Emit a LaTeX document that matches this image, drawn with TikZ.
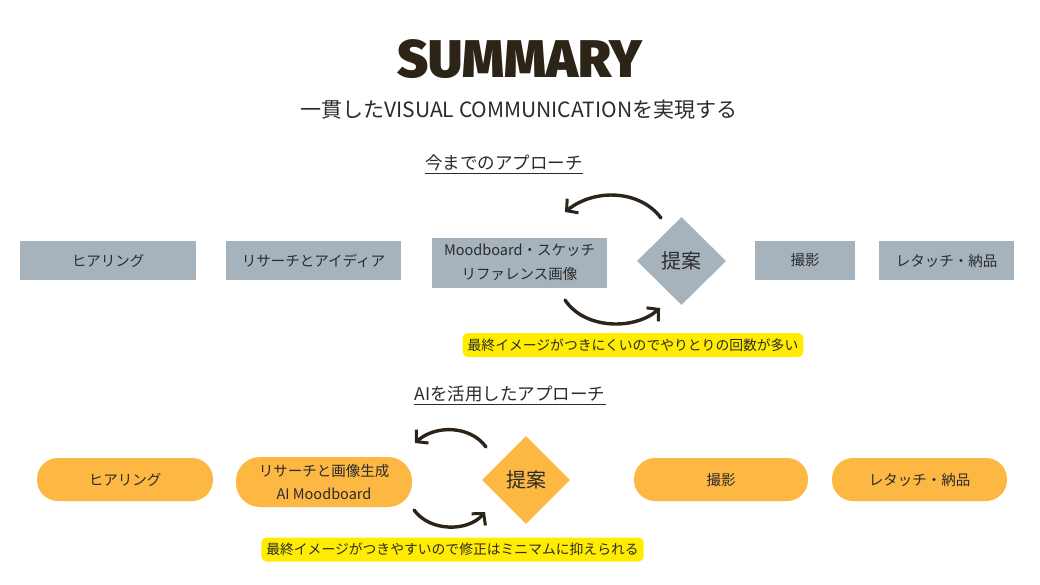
\documentclass[tikz,border=0pt]{standalone}
\usepackage{fontspec}
\setmainfont{Noto Sans CJK JP}
\newfontfamily\titlefont{Fira Sans Black}
\usetikzlibrary{shapes.geometric,arrows.meta}
\definecolor{grayfill}{HTML}{A7B3BC}
\definecolor{orangefill}{HTML}{FDB843}
\definecolor{noteyellow}{HTML}{FFEC00}
\definecolor{ink}{HTML}{2B2B2B}
\definecolor{arrowink}{HTML}{2C241B}
\definecolor{titleink}{HTML}{2D2418}
\tikzset{
  graybox/.style={fill=grayfill, draw=none, inner sep=0pt, text=ink, align=center,
    font=\fontsize{14.5}{24}\selectfont},
  pill/.style={fill=orangefill, draw=none, inner sep=0pt, text=ink, align=center,
    rounded corners=21pt, font=\fontsize{14.5}{23}\selectfont},
  graydia/.style={diamond, fill=grayfill, inner sep=0pt, minimum width=89pt, minimum height=88pt,
    text=ink, font=\fontsize{20}{24}\selectfont},
  oradia/.style={diamond, fill=orangefill, inner sep=0pt, minimum width=88pt, minimum height=88pt,
    text=ink, font=\fontsize{20}{24}\selectfont},
  note/.style={fill=noteyellow, rounded corners=5pt, inner xsep=5pt, inner ysep=0pt,
    minimum height=24pt, text=ink, font=\fontsize{13.8}{16}\selectfont},
  heading/.style={inner sep=0pt, text=ink, font=\fontsize{17.5}{20}\selectfont},
  loop/.style={draw=arrowink, line width=3.4pt, line cap=round,
    -{Straight Barb[length=8pt,width=18pt,line width=3pt]}},
  uline/.style={draw=ink, line width=1.2pt}
}
\begin{document}
\begin{tikzpicture}[x=1pt,y=-1pt]
\useasboundingbox[fill=white] (0,0) rectangle (1040,585);

% title
\node[text=titleink, font=\titlefont\fontsize{53}{56}\selectfont, inner sep=0pt, anchor=base] (title) at (520,78) {SUMMARY};
\node[text=ink, font=\fontsize{21}{24}\selectfont, inner sep=0pt] (sub) at (519,110) {一貫したVISUAL COMMUNICATIONを実現する};

% heading 1
\node[heading] (h1) at (504,163) {今までのアプローチ};
\draw[uline] ([yshift=-4pt]h1.base west) -- ([yshift=-4pt]h1.base east);

% row 1
\node[graybox, minimum width=176pt, minimum height=39pt] (g1) at (108,260.5) {ヒアリング};
\node[graybox, minimum width=175pt, minimum height=39pt] (g2) at (313.5,260.5) {リサーチとアイディア};
\node[graybox, minimum width=175pt, minimum height=50pt] (g3) at (519.5,262.5) {Moodboard・スケッチ\\リファレンス画像};
\node[graydia] (gd) at (681.5,261) {提案};
\node[graybox, minimum width=100pt, minimum height=39pt] (g4) at (805,260.5) {撮影};
\node[graybox, minimum width=135pt, minimum height=39pt] (g5) at (946.5,260.5) {レタッチ・納品};

\coordinate (a1s) at (661,218);
\coordinate (a1e) at (565,212);
\coordinate (a2s) at (565,300);
\coordinate (a2e) at (660,308);
\draw[loop] (a1s) .. controls (640,190) and (595,188) .. (a1e);
\draw[loop] (a2s) .. controls (585,330) and (635,330) .. (a2e);

\node[note] (n1) at (633,345) {最終イメージがつきにくいのでやりとりの回数が多い};

% heading 2
\node[heading] (h2) at (510,394) {AIを活用したアプローチ};
\draw[uline] ([yshift=-4pt]h2.base west) -- ([yshift=-4pt]h2.base east);

% row 2
\node[pill, minimum width=176pt, minimum height=43pt] (o1) at (125,479.5) {ヒアリング};
\node[pill, minimum width=176pt, minimum height=50pt, rounded corners=24pt] (o2) at (324,482) {リサーチと画像生成\\AI Moodboard};
\node[oradia] (od) at (526,480) {提案};
\node[pill, minimum width=174pt, minimum height=43pt] (o3) at (721,479.5) {撮影};
\node[pill, minimum width=175pt, minimum height=43pt] (o4) at (919.5,479.5) {レタッチ・納品};

\coordinate (b1s) at (486,447);
\coordinate (b1e) at (415,443);
\coordinate (b2s) at (414,510);
\coordinate (b2e) at (485,512);
\draw[loop] (b1s) .. controls (470,425) and (435,425) .. (b1e);
\draw[loop] (b2s) .. controls (430,532) and (468,532) .. (b2e);

\node[note] (n2) at (452.5,549.5) {最終イメージがつきやすいので修正はミニマムに抑えられる};
\end{tikzpicture}
\end{document}
